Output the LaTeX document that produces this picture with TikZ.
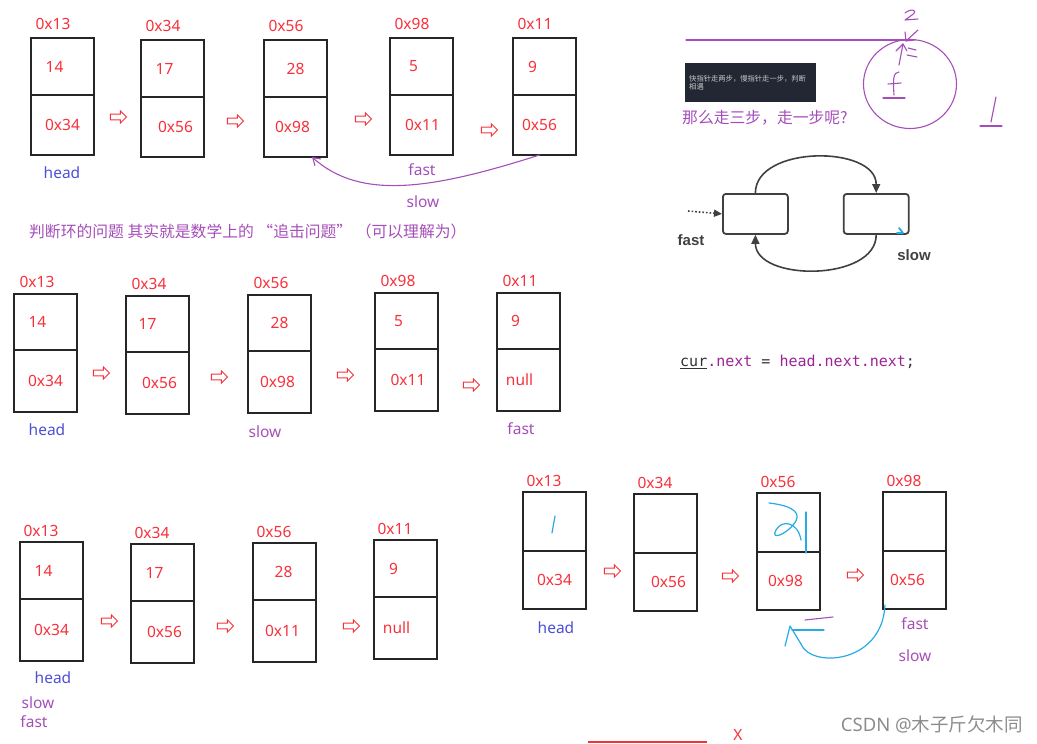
\documentclass[tikz,border=0pt]{standalone}
\usepackage{fontspec}
\setmainfont{Noto Sans}
\newfontfamily\cjk{Noto Sans CJK SC}
\newfontfamily\codefont{DejaVu Sans Mono}
\newfontfamily\ringfont{Liberation Sans}
\usepackage{xcolor}
\usetikzlibrary{shapes.arrows,arrows.meta,positioning}

\definecolor{addrred}{RGB}{248,48,58}
\definecolor{headblue}{RGB}{78,78,215}
\definecolor{penpurple}{RGB}{165,78,185}
\definecolor{penblue}{RGB}{40,170,230}
\definecolor{codepurple}{RGB}{155,35,150}
\definecolor{boxdark}{RGB}{34,39,51}
\newcommand{\fsz}[1]{\fontsize{#1}{#1}\selectfont}

\begin{document}
\begin{tikzpicture}[
	x=1pt, y=-1pt,
	>={Stealth[round]},
	cell/.style={rectangle, draw=black!85, line width=1.3pt, minimum width=63pt, outer sep=0pt, inner sep=0pt},
	hi/.style={cell, minimum height=57pt},
	lo/.style={cell, minimum height=60pt},
	txt/.style={inner sep=0pt, font=\fsz{15.5}},
	addr/.style={txt, text=addrred},
	lbl/.style={txt, text=headblue},
	ptr/.style={txt, text=penpurple},
	nextarrow/.style={single arrow, draw=addrred, fill=white, line width=0.9pt, minimum height=16pt, minimum width=12pt, single arrow head extend=3pt, inner sep=2.3pt},
	pen/.style={penblue, line width=1.2pt, line cap=round, line join=round},
	ink/.style={penpurple, line width=1.1pt, line cap=round, line join=round},
	loopbox/.style={rectangle, rounded corners=3pt, draw=black!75, line width=1.8pt, minimum width=65pt, minimum height=40pt},
	loopline/.style={draw=black!75, line width=1.6pt, -{Triangle[length=9pt, width=8pt]}},
]
\useasboundingbox (0,0) rectangle (1037,744);

% first row: loop back to 0x56
\foreach \n/\x/\y/\a/\v/\vx/\p/\px in {r1a/31/38/0x13/14/-8/0x34/0, r1b/141/40/0x34/17/-8/0x56/3, r1c/264/40/0x56/28/0/0x98/-3, r1d/390/38/0x98/5/-8/0x11/1, r1e/513/38/0x11/9/-12/0x56/-5} {
	\node[hi, anchor=north west] (\n-t) at (\x,\y) {};
	\node[lo, below=0pt of \n-t] (\n-b) {};
	\node[addr] (\n-a) at ({\x+22},{\y-14}) {\a};
	\node[addr] (\n-v) at ([xshift=\vx pt]\n-t.center) {\v};
	\node[addr] (\n-p) at ([xshift=\px pt]\n-b.center) {\p};
}
\foreach \x/\y [count=\i] in {117/117, 234/121, 362/119, 488/130}
	\node[nextarrow] (n1\i) at (\x,\y) {};
\node[lbl] (r1head) at (62,173) {head};
\node[ptr] (r1fast) at (422,170) {fast};
\node[ptr] (r1slow) at (423,202) {slow};
\draw[ink, -{Straight Barb[length=7pt, width=9pt]}] ([xshift=-5pt]r1e-b.south) .. controls (430,190) and (360,200) .. ([xshift=-15pt]r1c-b.south east);
\node[ptr, anchor=west, font=\cjk\fsz{15.8}] (note) at (29,231) {判断环的问题 其实就是数学上的 “追击问题” （可以理解为）};

% second row: fast reaches null
\begin{scope}[hi/.append style={minimum height=56pt}, lo/.append style={minimum height=62pt}]
\foreach \n/\x/\y/\a/\v/\vx/\p/\px in {r2a/14/294/0x13/14/-8/0x34/0, r2b/126/296/0x34/17/-10/0x56/2, r2c/248/295/0x56/28/0/0x98/-2, r2d/375/293/0x98/5/-8/0x11/1.5, r2e/497/293/0x11/9/-13/null/-9} {
	\node[hi, anchor=north west] (\n-t) at (\x,\y) {};
	\node[lo, below=0pt of \n-t] (\n-b) {};
	\node[addr] (\n-a) at ({\x+23},{\y-12}) {\a};
	\node[addr] (\n-v) at ([xshift=\vx pt]\n-t.center) {\v};
	\node[addr] (\n-p) at ([xshift=\px pt]\n-b.center) {\p};
}
\end{scope}
\foreach \x/\y [count=\i] in {100/373, 218/377, 344/375, 470/385}
	\node[nextarrow] (n2\i) at (\x,\y) {};
\node[lbl] (r2head) at (47,430) {head};
\node[ptr] (r2slow) at (265,432) {slow};
\node[ptr] (r2fast) at (521,429) {fast};

% third row: four nodes
\begin{scope}[lo/.append style={minimum height=62pt}]
\foreach \n/\x/\y/\a/\v/\vx/\p/\px in {r3a/20/542/0x13/14/-8/0x34/0, r3b/131/544/0x34/17/-8/0x56/2, r3c/253/543/0x56/28/-1/0x11/-2, r3d/374/540/0x11/9/-12/null/-9} {
	\node[hi, anchor=north west] (\n-t) at (\x,\y) {};
	\node[lo, below=0pt of \n-t] (\n-b) {};
	\node[addr] (\n-a) at ({\x+21},{\y-11}) {\a};
	\node[addr] (\n-v) at ([xshift=\vx pt]\n-t.center) {\v};
	\node[addr] (\n-p) at ([xshift=\px pt]\n-b.center) {\p};
}
\end{scope}
\foreach \x/\y [count=\i] in {108/621, 224/626, 350/626}
	\node[nextarrow] (n3\i) at (\x,\y) {};
\node[lbl] (r3head) at (53,678) {head};
\node[ptr] (r3slow) at (38,703) {slow};
\node[ptr] (r3fast) at (34,722) {fast};

% fourth row: handwritten
\begin{scope}[hi/.append style={minimum height=59pt}, lo/.append style={minimum height=58pt}]
\foreach \n/\x/\y/\a/\p/\px in {r4a/523/492/0x13/0x34/0, r4b/634/494/0x34/0x56/3, r4c/757/493/0x56/0x98/-3, r4d/883/492/0x98/0x56/-7} {
	\node[hi, anchor=north west] (\n-t) at (\x,\y) {};
	\node[lo, below=0pt of \n-t] (\n-b) {};
	\node[addr] (\n-a) at ({\x+21},{\y-11}) {\a};
	\node[addr] (\n-p) at ([xshift=\px pt]\n-b.center) {\p};
}
\end{scope}
\foreach \x/\y [count=\i] in {611/571, 729/576, 854/575}
	\node[nextarrow] (n4\i) at (\x,\y) {};
\node[lbl] (r4head) at (556,628) {head};
\node[ptr] (r4fast) at (915,624) {fast};
\node[ptr] (r4slow) at (915,656) {slow};
\draw[pen] (555,516) -- (552,533);
\draw[pen] (769,503) .. controls (795,506) and (803,514) .. (793,525) .. controls (786,534) and (770,541) .. (776,530) .. controls (782,519) and (798,522) .. (801,540);
\draw[pen] (806,512) -- (806,553);
\draw[ink] (805,620) -- (833,617);
\draw[pen] ([xshift=2pt,yshift=4pt]r4d-b.south west) .. controls (882,665) and (810,668) .. (801,644);
\draw[pen] (785,646) -- (790,626) -- (801,644);
\draw[pen] (792,630) -- (824,630);

% top right: hints
\draw[ink] (686,40) -- (908,40);
\draw[ink] (910,84) ellipse [x radius=46.5, y radius=44.5];
\draw[ink] (905,13) .. controls (911,8) and (919,10) .. (912,15) -- (905,20) -- (918,19);
\draw[ink] (918,30) -- (906,41);
\draw[ink] (905,32) -- (906,41) -- (915,40);
\draw[ink] (899,65) -- (903,44);
\draw[ink] (896,51) -- (903,44) -- (907,51);
\draw[ink] (908,48) -- (916,50);
\draw[ink] (907,55) -- (917,57);
\draw[ink] (899,72) .. controls (893,72) and (893,80) .. (894,95);
\draw[ink] (888,84) -- (901,83);
\draw[ink] (883,98) -- (905,98);
\draw[ink] (996,97) -- (991,122);
\draw[ink] (980,126) -- (1002,126);
\node[fill=boxdark, anchor=north west, minimum width=131pt, minimum height=39pt, text width=123pt, align=left, inner sep=4pt, font=\cjk\fsz{7.3}, text=white!78!black] (tip) at (685,63) {快指针走两步，慢指针走一步，判断\\相遇};
\node[ptr, anchor=west, font=\cjk\fsz{15.8}] (ask) at (682,118) {那么走三步，走一步呢?};

% the ring
\node[loopbox, anchor=north west] (cycA) at (722,193) {};
\node[loopbox, right=54pt of cycA] (cycB) {};
\draw[loopline] (cycA.north) .. controls +(0,-48) and +(0,-48) .. (cycB.north);
\draw[loopline] (cycB.south) .. controls +(0,47) and +(0,47) .. (cycA.south);
\coordinate (entry) at (688,211);
\draw[loopline, dotted, -{Triangle[length=8pt, width=7pt]}] (entry) -- (cycA.west);
\node[txt, font=\ringfont\bfseries\fsz{15}, text=black!75] (ringfast) at (691,240) {fast};
\node[txt, font=\ringfont\bfseries\fsz{15}, text=black!75] (ringslow) at (914,255) {slow};
\draw[pen, line width=1.8pt] (899,228) -- (903,233) -- (897,233);

\node[anchor=west, inner sep=0pt, font=\codefont\fsz{15}] (code) at (680,362) {\textcolor{black!80}{\underline{cur}}\textcolor{codepurple}{.next} \textcolor{black!80}{=} \textcolor{codepurple}{head.next.next}\textcolor{black!80}{;}};

% bottom
\draw[addrred, line width=1.5pt] (588,742) -- (707,742);
\node[addr] (cross) at (738,735) {X};
\node[txt, anchor=east, font=\fsz{18.5}, text=black!45] (mark) at (1023,724) {CSDN @{\cjk 木子斤欠木同}};
\end{tikzpicture}
\end{document}
